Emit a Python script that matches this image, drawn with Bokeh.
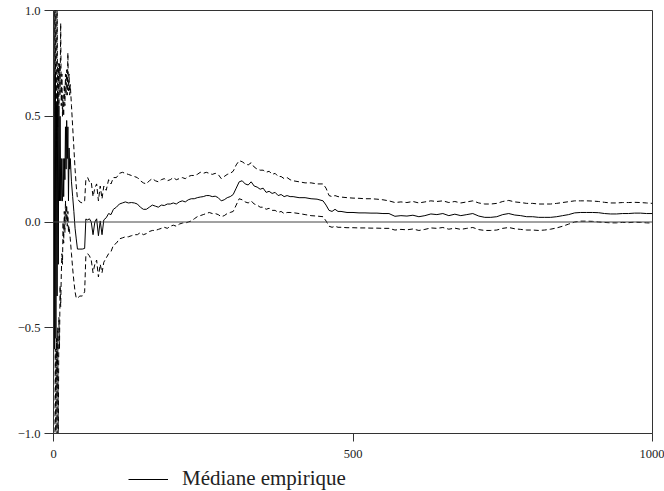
from bokeh.plotting import figure
from bokeh.layouts import column
from bokeh.models import (Range1d, FixedTicker, CustomJSTickFormatter, Span,
                          Legend, LegendItem, ColumnDataSource)
from bokeh.embed import file_html
from bokeh.resources import INLINE

# ---- data ----
n_values = [1, 2, 3, 4, 5, 6, 7, 8, 9, 10, 11, 12, 13, 14, 15, 16, 17, 18, 19, 20,
            21, 22, 23, 24, 25, 26, 27, 28, 30, 32, 34, 36, 38, 40, 44, 48, 52,
            54, 57, 60, 63, 66, 69, 72, 75, 78, 81, 84, 88, 92, 96, 100, 105, 110, 115,
            120, 125, 130, 135, 140, 145, 150, 155, 160, 165, 170, 175, 180, 185, 190, 195,
            200, 205, 210, 215, 220, 225, 230, 235, 240, 245, 250, 255, 260, 265, 270, 275,
            280, 285, 290, 295, 300, 305, 310, 315, 320, 325, 330, 335, 340, 345, 350, 355,
            360, 365, 370, 375, 380, 385, 390, 395, 400, 410, 420, 430, 440, 450, 455, 460,
            465, 470, 475, 480, 490, 500, 510, 520, 530, 540, 550, 560, 570, 580, 590, 600,
            610, 620, 630, 640, 650, 660, 670, 680, 690, 700, 710, 720, 730, 740, 750, 760,
            770, 780, 790, 800, 810, 820, 830, 840, 850, 860, 870, 880, 890, 900, 910, 920,
            930, 940, 950, 960, 970, 980, 990, 1000]

mediane = [1.3, -0.6, 0.7, -0.55, 0.55, -0.35, 0.6, -0.2, 0.55, 0.1, 0.5, 0.1, 0.3, 0.1,
           0.1, 0.3, 0.12, 0.3, 0.2, 0.45, 0.25, 0.48, 0.3, 0.45, 0.1, 0.35, 0.25, 0.3,
           0.19, 0.12, 0.05, -0.03, -0.08, -0.128, -0.128, -0.128, -0.125,
           0.014, 0.01, 0.015, 0.0, -0.06, 0.0, 0.015, -0.065, 0.005, -0.06, 0.01, 0.02,
           0.04, 0.035, 0.06, 0.07, 0.085, 0.09,
           0.095, 0.09, 0.092, 0.09, 0.085, 0.07, 0.06, 0.06, 0.07, 0.08, 0.075, 0.07,
           0.08, 0.078, 0.085, 0.085,
           0.09, 0.085, 0.095, 0.1, 0.095, 0.105, 0.11, 0.11, 0.115, 0.118, 0.12, 0.125,
           0.125, 0.12, 0.122, 0.115,
           0.1, 0.105, 0.115, 0.12, 0.13, 0.16, 0.19, 0.195, 0.18, 0.175, 0.19, 0.17,
           0.165, 0.155, 0.16, 0.14,
           0.145, 0.135, 0.14, 0.125, 0.13, 0.12, 0.125, 0.12, 0.12, 0.115, 0.115, 0.11,
           0.108, 0.1, 0.08, 0.055,
           0.05, 0.06, 0.05, 0.05, 0.045, 0.045, 0.043, 0.043, 0.042, 0.042, 0.04, 0.04,
           0.027, 0.03, 0.028, 0.032,
           0.025, 0.03, 0.038, 0.035, 0.04, 0.03, 0.037, 0.03, 0.035, 0.04, 0.028, 0.022,
           0.022, 0.025, 0.035, 0.04,
           0.033, 0.03, 0.025, 0.025, 0.022, 0.022, 0.022, 0.025, 0.03, 0.035, 0.043,
           0.045, 0.045, 0.045, 0.044, 0.04,
           0.038, 0.038, 0.04, 0.04, 0.042, 0.042, 0.04, 0.04]

borne_sup = [1.6, 1.3, 0.5, 1.1, 0.35, 1.0, 0.45, 0.75, 0.55, 0.75, 0.6, 0.94, 0.55, 0.7,
             0.5, 0.6, 0.5, 0.65, 0.55, 0.7, 0.6, 0.72, 0.6, 0.8, 0.62, 0.7, 0.6, 0.65,
             0.55, 0.45, 0.35, 0.25, 0.17, 0.11, 0.095, 0.09, 0.1,
             0.2, 0.21, 0.19, 0.19, 0.12, 0.16, 0.18, 0.1, 0.17, 0.11, 0.17, 0.15,
             0.2, 0.18, 0.21, 0.21, 0.23, 0.235,
             0.23, 0.225, 0.22, 0.215, 0.21, 0.195, 0.185, 0.18, 0.195, 0.205, 0.195, 0.19,
             0.2, 0.205, 0.195, 0.2,
             0.21, 0.2, 0.205, 0.21, 0.205, 0.215, 0.22, 0.22, 0.225, 0.235, 0.23, 0.235,
             0.23, 0.225, 0.23, 0.225,
             0.205, 0.215, 0.225, 0.23, 0.24, 0.27, 0.29, 0.285, 0.275, 0.27, 0.28, 0.26,
             0.25, 0.245, 0.245, 0.235,
             0.24, 0.225, 0.23, 0.215, 0.215, 0.205, 0.21, 0.2, 0.195, 0.19, 0.185, 0.185,
             0.18, 0.18, 0.16, 0.125,
             0.12, 0.125, 0.12, 0.118, 0.115, 0.113, 0.112, 0.11, 0.11, 0.108, 0.105, 0.1,
             0.092, 0.095, 0.092, 0.097,
             0.09, 0.095, 0.1, 0.097, 0.1, 0.092, 0.097, 0.09, 0.095, 0.1, 0.09, 0.085,
             0.085, 0.088, 0.097, 0.102,
             0.095, 0.092, 0.088, 0.088, 0.085, 0.085, 0.085, 0.088, 0.092, 0.096, 0.1,
             0.1, 0.1, 0.099, 0.097, 0.093,
             0.09, 0.09, 0.092, 0.092, 0.093, 0.092, 0.09, 0.088]

borne_inf = [-1.6, -1.3, -0.6, -1.2, -0.55, -1.0, -0.5, -1.05, -0.45, -0.6, -0.3, -0.4,
             -0.25, -0.15, -0.2, 0.0, -0.1, 0.05, -0.05, 0.1, 0.0, 0.08, -0.02, 0.05,
             -0.05, -0.02, -0.05, -0.08, -0.15, -0.22, -0.28, -0.33, -0.36, -0.36, -0.35,
             -0.35, -0.33,
             -0.16, -0.15, -0.16, -0.18, -0.24, -0.2, -0.18, -0.26, -0.2, -0.24, -0.19,
             -0.17, -0.15, -0.14, -0.11, -0.1, -0.08, -0.075,
             -0.07, -0.07, -0.065, -0.06, -0.06, -0.05, -0.06, -0.055, -0.045, -0.04,
             -0.04, -0.035, -0.03, -0.025, -0.03, -0.02,
             -0.015, -0.02, -0.01, -0.005, -0.005, 0.0, 0.005, 0.015, 0.025, 0.03, 0.035,
             0.04, 0.045, 0.04, 0.04, 0.035,
             0.025, 0.03, 0.04, 0.045, 0.05, 0.08, 0.11, 0.105, 0.095, 0.09, 0.1, 0.085,
             0.08, 0.07, 0.07, 0.06,
             0.065, 0.055, 0.055, 0.045, 0.05, 0.04, 0.045, 0.045, 0.044, 0.04, 0.035,
             0.03, 0.028, 0.025, 0.005, -0.02,
             -0.025, -0.02, -0.025, -0.025, -0.027, -0.027, -0.028, -0.028, -0.029, -0.029,
             -0.03, -0.03, -0.038, -0.035, -0.037, -0.033,
             -0.04, -0.035, -0.028, -0.03, -0.026, -0.034, -0.029, -0.035, -0.03, -0.026,
             -0.036, -0.04, -0.04, -0.038, -0.03, -0.026,
             -0.032, -0.035, -0.038, -0.038, -0.04, -0.038, -0.034, -0.028, -0.02, -0.01,
             0.0, 0.004, 0.004, 0.003, 0.0, -0.002,
             -0.004, -0.004, -0.002, -0.003, -0.001, -0.002, -0.004, -0.005]

x_ticks = [0, 500, 1000]
y_ticks = [-1.0, -0.5, 0.0, 0.5, 1.0]
legend_label = "Médiane empirique"

FONT = "Liberation Serif"
AXIS_COLOR = "#333333"
WIDTH = 664

src = ColumnDataSource(dict(n=n_values, med=mediane, sup=borne_sup, inf=borne_inf))

# ---------- main chart ----------
p = figure(frame_width=599, frame_height=423, output_backend="svg", toolbar_location=None,
           x_range=Range1d(0, 1000), y_range=Range1d(-1.0, 1.0),
           min_border_left=53, min_border_right=12, min_border_top=10,
           min_border_bottom=33)
p.background_fill_color = "white"
p.border_fill_color = "white"
p.outline_line_color = AXIS_COLOR
p.outline_line_width = 1
p.xgrid.visible = False
p.ygrid.visible = False

for ax in (p.xaxis[0], p.yaxis[0]):
    ax.axis_line_color = AXIS_COLOR
    ax.major_tick_line_color = AXIS_COLOR
    ax.minor_tick_line_color = None
    ax.major_tick_in = 0
    ax.major_label_text_font = FONT
    ax.major_label_text_font_size = "12.5px"
    ax.major_label_text_color = "#222222"

p.xaxis[0].ticker = FixedTicker(ticks=x_ticks)
p.xaxis[0].major_tick_out = 8
p.xaxis[0].major_label_standoff = 8
p.yaxis[0].ticker = FixedTicker(ticks=y_ticks)
p.yaxis[0].major_tick_out = 9
p.yaxis[0].major_label_standoff = 4
p.yaxis[0].formatter = CustomJSTickFormatter(
    code="return tick.toFixed(1).replace('-', '\u2212');")

p.add_layout(Span(location=0, dimension="width", line_color="#444444", line_width=1))

p.line("n", "med", source=src, line_color="black", line_width=1)
p.line("n", "sup", source=src, line_color="black", line_width=1, line_dash="5 3")
p.line("n", "inf", source=src, line_color="black", line_width=1, line_dash="5 3")

# ---------- legend strip below (its ranges keep the key's data out of view) ----------
leg = figure(width=WIDTH, height=25, output_backend="svg", toolbar_location=None,
             x_range=Range1d(2000, 2001), y_range=Range1d(5, 6),
             x_axis_location=None, y_axis_location=None, min_border=0)
leg.outline_line_color = None
leg.xgrid.visible = False
leg.ygrid.visible = False
leg.background_fill_color = "white"
leg.border_fill_color = "white"
r_key = leg.line("n", "med", source=src, line_color="black", line_width=1)

legend = Legend(items=[LegendItem(label=legend_label, renderers=[r_key])],
                location=(75, 0), orientation="horizontal",
                glyph_width=40, glyph_height=14, label_standoff=14,
                padding=0, margin=0, spacing=0,
                border_line_alpha=0, background_fill_alpha=0,
                label_text_font=FONT, label_text_font_size="21px",
                label_text_color="#222222")
leg.add_layout(legend, "center")

layout = column(p, leg, spacing=0)
open("out.html", "w").write(file_html(layout, INLINE))
